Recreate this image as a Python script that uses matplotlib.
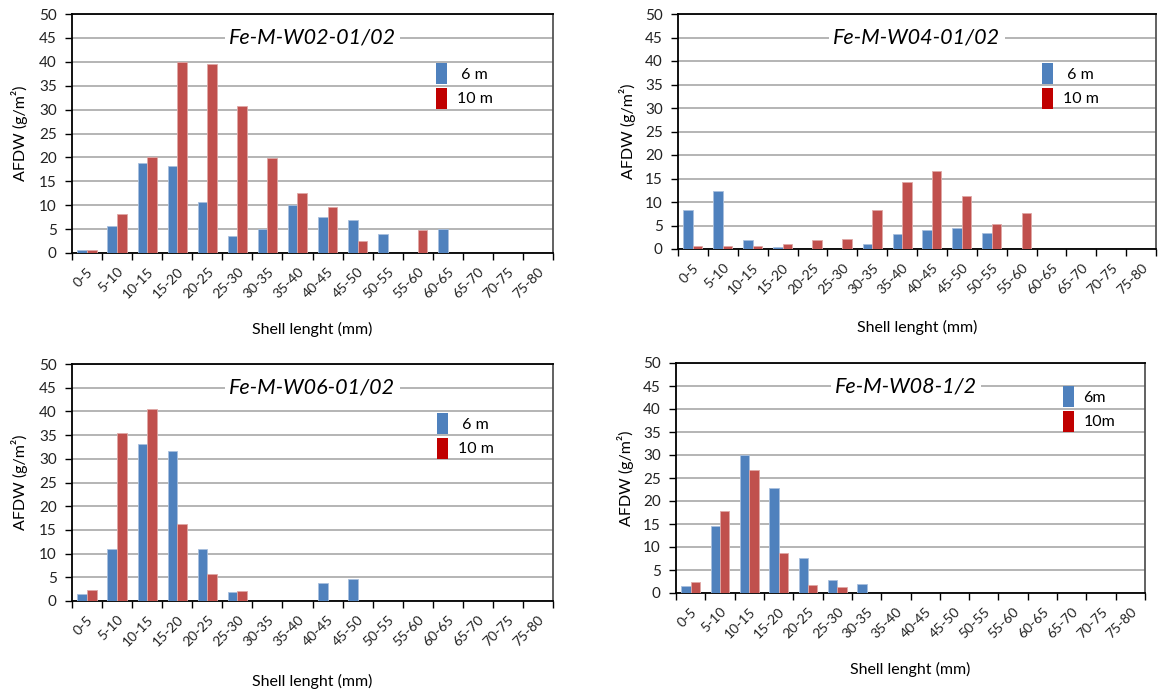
import numpy as np
import matplotlib
matplotlib.use("Agg")
import matplotlib.pyplot as plt
from matplotlib.patches import Patch
import matplotlib.transforms as mtransforms

plt.rcParams['font.family'] = ['Lato', 'DejaVu Sans']

# ---------------- data ----------------
size_classes = ["0-5", "5-10", "10-15", "15-20", "20-25", "25-30", "30-35", "35-40",
                "40-45", "45-50", "50-55", "55-60", "60-65", "65-70", "70-75", "75-80"]

w02_6m = [0.6, 5.7, 18.8, 18.3, 10.7, 3.6, 5.1, 10.0, 7.6, 6.9, 3.9, 0, 5.1, 0, 0, 0]
w02_10m = [0.6, 8.2, 20.1, 39.9, 39.6, 30.7, 19.9, 12.5, 9.7, 2.6, 0, 4.9, 0, 0, 0, 0]

w04_6m = [8.2, 12.3, 1.9, 0.35, 0, 0, 1.1, 3.1, 4.1, 4.4, 3.4, 0, 0, 0, 0, 0]
w04_10m = [0.55, 0.55, 0.55, 1.05, 1.85, 2.1, 8.4, 14.2, 16.5, 11.2, 5.4, 7.6, 0, 0, 0, 0]

w06_6m = [1.4, 11.0, 33.2, 31.7, 11.0, 1.9, 0, 0, 3.9, 4.6, 0, 0, 0, 0, 0, 0]
w06_10m = [2.4, 35.5, 40.6, 16.3, 5.6, 2.1, 0, 0, 0, 0, 0, 0, 0, 0, 0, 0]

w08_6m = [1.6, 14.5, 30.0, 22.9, 7.7, 2.8, 1.9, 0, 0, 0, 0, 0, 0, 0, 0, 0]
w08_10m = [2.4, 17.8, 26.7, 8.7, 1.8, 1.4, 0, 0, 0, 0, 0, 0, 0, 0, 0, 0]

titles = ["Fe-M-W02-01/02", "Fe-M-W04-01/02", "Fe-M-W06-01/02", "Fe-M-W08-1/2"]
legend_labels = [[" 6 m", "10 m"], [" 6 m", "10 m"], [" 6 m", "10 m"], ["6m", "10m"]]

x_label = "Shell lenght (mm)"
y_label = "AFDW (g/m\u00b2)"

# ---------------- style ----------------
BLUE = "#4F81BD"
RED = "#C0504D"
LEG_RED = "#C00000"
GRID = "#A0A0A0"

W, H = 1158, 690
fig = plt.figure(figsize=(W / 100, H / 100), dpi=100)

# pixel boxes: left, right, top, bottom
boxes = [(72, 553, 14, 253), (678, 1156, 14, 249), (72, 553, 364, 601), (676, 1145, 363, 593)]
# legend upper-left (px), ylabel right edge (axes frac), xlabel top (axes frac)
leg_pos = [(436, 63), (1042, 63), (437, 413), (1063, 386)]
title_x = [0.5, 0.5, 0.5, 0.49]
ylab_x = [-0.0915, -0.088, -0.0915, -0.0896]
xlab_y = [-0.289, -0.302, -0.308, -0.300]

series = [(w02_6m, w02_10m), (w04_6m, w04_10m), (w06_6m, w06_10m), (w08_6m, w08_10m)]

x = np.arange(len(size_classes))
bw = 0.32
LEG_FS = 11.5
fs_px = LEG_FS * 100 / 72
# matplotlib legend handle patch height = fs*(0.65*hh + 0.245)
hh = (21.0 / fs_px - 0.245) / 0.65

for i, ((l, r, t, b), (s6, s10)) in enumerate(zip(boxes, series)):
    ax = fig.add_axes([l / W, 1 - b / H, (r - l) / W, (b - t) / H])
    ax.bar(x - bw / 2, s6, width=bw, color=BLUE, edgecolor="#A9C0DE", linewidth=0.6, zorder=3)
    ax.bar(x + bw / 2, s10, width=bw, color=RED, edgecolor="#E0A8A6", linewidth=0.6, zorder=3)

    ax.set_xlim(-0.5, len(size_classes) - 0.5)
    ax.set_ylim(0, 50)
    ax.set_yticks(np.arange(0, 51, 5))
    ax.yaxis.grid(True, color=GRID, linewidth=1.1, zorder=0)
    ax.set_axisbelow(True)

    # category boundaries as major ticks, labels on minor ticks
    ax.set_xticks(np.arange(-0.5, len(size_classes), 1.0))
    ax.set_xticklabels([])
    ax.set_xticks(x, minor=True)
    ax.set_xticklabels(size_classes, minor=True, rotation=45, ha="right", va="top",
                       rotation_mode="anchor", fontsize=10, color="#222222")
    ax.tick_params(axis="x", which="minor", length=0, pad=9)
    ax.tick_params(axis="x", which="major", length=5, width=1.0, direction="out")
    ax.tick_params(axis="y", length=5, width=1.0, direction="out", labelsize=11,
                   labelcolor="#222222", pad=6)

    for side in ["left", "bottom", "top"]:
        ax.spines[side].set_color("black")
        ax.spines[side].set_linewidth(1.3)
    ax.spines["right"].set_color("#555555")
    ax.spines["right"].set_linewidth(1.3)

    ax.set_ylabel(y_label, fontsize=11.5)
    ax.yaxis.set_label_coords(ylab_x[i], 0.5)
    ax.set_xlabel(x_label, fontsize=11.5)
    ax.xaxis.set_label_coords(0.5, xlab_y[i])

    trans = mtransforms.blended_transform_factory(ax.transAxes, ax.transData)
    ax.text(title_x[i], 45, titles[i], transform=trans, ha="center", va="center",
            fontsize=15.5, style="italic", zorder=5,
            bbox=dict(facecolor="white", edgecolor="none", pad=3))

    lx, ly = leg_pos[i]
    handles = [Patch(facecolor=BLUE, edgecolor="none"), Patch(facecolor=LEG_RED, edgecolor="none")]
    ax.legend(handles, legend_labels[i], loc="upper left",
              bbox_to_anchor=((lx - l) / (r - l), (b - ly) / (b - t)),
              frameon=False, borderpad=0, borderaxespad=0, fontsize=LEG_FS,
              handlelength=11 / fs_px, handleheight=hh,
              labelspacing=3.5 / fs_px, handletextpad=0.6)

fig.savefig("out.png", dpi=100)
